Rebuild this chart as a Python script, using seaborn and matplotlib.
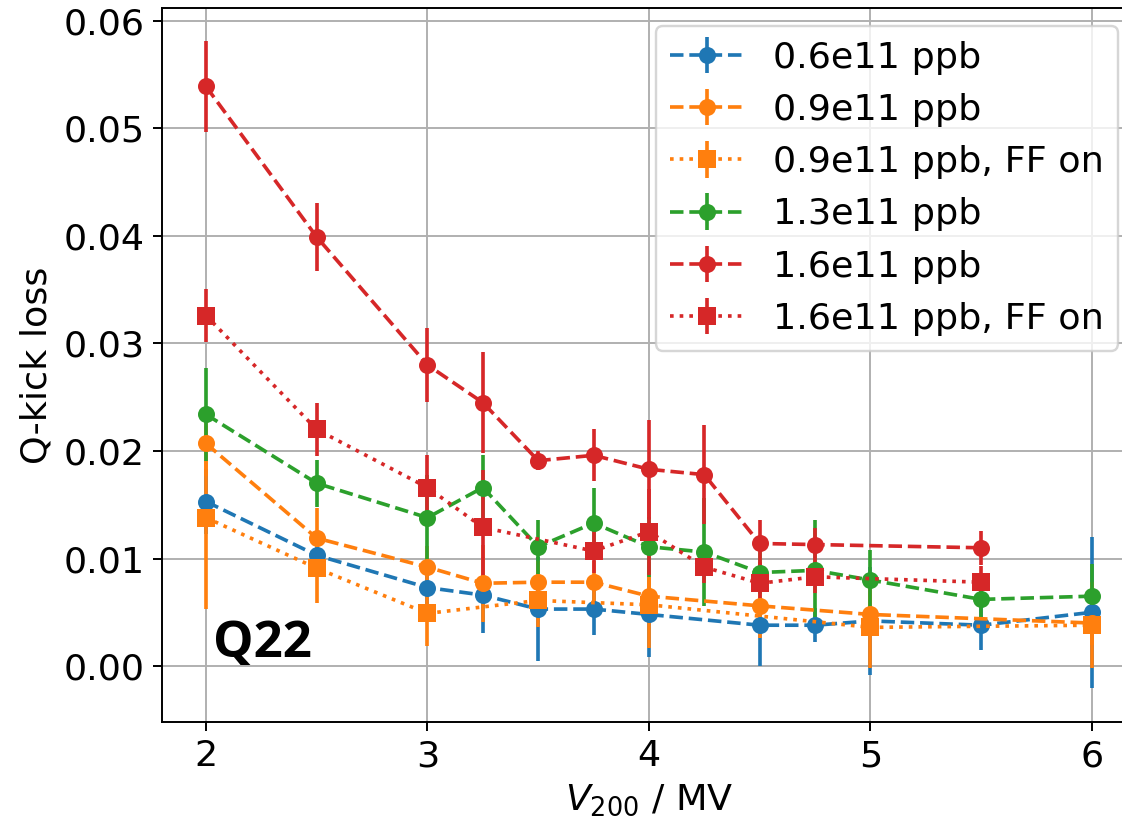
import numpy as np
import pandas as pd
import matplotlib
matplotlib.use("Agg")
import matplotlib.pyplot as plt
import seaborn as sns

# ---- data ----
x_06 = [2, 2.5, 3, 3.25, 3.5, 3.75, 4, 4.5, 4.75, 5, 5.5, 6]
y_06 = [0.0153, 0.0103, 0.0073, 0.0066, 0.0053, 0.0053, 0.0048, 0.0038, 0.0038, 0.0042, 0.0038, 0.0050]
e_06 = [0.003, 0.002, 0.002, 0.0035, 0.0048, 0.0024, 0.004, 0.0038, 0.0016, 0.005, 0.0023, 0.007]

x_09 = [2, 2.5, 3, 3.25, 3.5, 3.75, 4, 4.5, 5, 6]
y_09 = [0.0207, 0.0119, 0.0092, 0.0077, 0.0078, 0.0078, 0.0065, 0.0056, 0.0048, 0.0040]
e_09 = [0.003, 0.0028, 0.002, 0.0036, 0.002, 0.002, 0.0025, 0.003, 0.002, 0.002]

x_09ff = [2, 2.5, 3, 3.5, 4, 5, 6]
y_09ff = [0.0138, 0.0091, 0.0049, 0.0061, 0.0057, 0.0036, 0.0038]
e_09ff = [0.0085, 0.0032, 0.003, 0.0025, 0.004, 0.0038, 0.004]

x_13 = [2, 2.5, 3, 3.25, 3.5, 3.75, 4, 4.25, 4.5, 4.75, 5, 5.5, 6]
y_13 = [0.0234, 0.0170, 0.0138, 0.0166, 0.0111, 0.0133, 0.0111, 0.0106, 0.0087, 0.0089, 0.0080, 0.0062, 0.0065]
e_13 = [0.0043, 0.0022, 0.004, 0.003, 0.0025, 0.0033, 0.0028, 0.005, 0.002, 0.0047, 0.0028, 0.0025, 0.003]

x_16 = [2, 2.5, 3, 3.25, 3.5, 3.75, 4, 4.25, 4.5, 4.75, 5.5]
y_16 = [0.0539, 0.0399, 0.0280, 0.0245, 0.0191, 0.0196, 0.0183, 0.0178, 0.0114, 0.0113, 0.0110]
e_16 = [0.0042, 0.0032, 0.0034, 0.0047, 0.0009, 0.0024, 0.0046, 0.0046, 0.0022, 0.0015, 0.0016]

x_16ff = [2, 2.5, 3, 3.25, 3.75, 4, 4.25, 4.5, 4.75, 5.5]
y_16ff = [0.0326, 0.0220, 0.0166, 0.0129, 0.0107, 0.0125, 0.0092, 0.0077, 0.0083, 0.0078]
e_16ff = [0.0025, 0.0025, 0.003, 0.0053, 0.002, 0.004, 0.0015, 0.002, 0.0015, 0.0015]

labels = ["0.6e11 ppb", "0.9e11 ppb", "0.9e11 ppb, FF on",
          "1.3e11 ppb", "1.6e11 ppb", "1.6e11 ppb, FF on"]

pal = sns.color_palette("tab10")
series = [
    (x_06, y_06, e_06, pal[0], "--", "o"),
    (x_09, y_09, e_09, pal[1], "--", "o"),
    (x_09ff, y_09ff, e_09ff, pal[1], ":", "s"),
    (x_13, y_13, e_13, pal[2], "--", "o"),
    (x_16, y_16, e_16, pal[3], "--", "o"),
    (x_16ff, y_16ff, e_16ff, pal[3], ":", "s"),
]

plt.rcParams.update({
    "font.family": ["DejaVu Sans"],
    "font.size": 15,
    "axes.linewidth": 0.8,
})

dpi = 175
fig = plt.figure(figsize=(1122 / dpi, 821 / dpi), dpi=dpi)
ax = fig.add_axes([0.1441, 0.1206, 0.8686, 0.8697])
ax.set_axisbelow(True)
ax.grid(True, color="#b0b0b0", linewidth=0.8)

handles = []
for (xs, ys, es, col, ls, mk), lab in zip(series, labels):
    df = pd.DataFrame({"V": xs, "loss": ys})
    ax.errorbar(df["V"], df["loss"], yerr=es, fmt="none", ecolor=col,
                elinewidth=1.5, zorder=2)
    sns.lineplot(data=df, x="V", y="loss", color=col, linestyle=ls,
                 marker=mk, markersize=7, markeredgewidth=0, linewidth=1.5,
                 sort=False, estimator=None, legend=False, ax=ax, zorder=2.1)
    h = ax.errorbar([np.nan], [np.nan], yerr=[np.nan], fmt=mk + ls,
                    color=col, ecolor=col, elinewidth=1.5, linewidth=1.5,
                    markersize=7, markeredgewidth=0, label=lab)
    handles.append(h)

ax.set_xlim(1.8, 6.2)
ax.set_ylim(-0.0052, 0.0612)
ax.set_xticks([2, 3, 4, 5, 6])
ax.set_yticks([0.00, 0.01, 0.02, 0.03, 0.04, 0.05, 0.06])
ax.set_yticklabels(["0.00", "0.01", "0.02", "0.03", "0.04", "0.05", "0.06"])
ax.tick_params(labelsize=15)
ax.set_xlabel("$V_{200}$ / MV", fontsize=15)
ax.set_ylabel("Q-kick loss", fontsize=15)

ax.legend(handles=handles, labels=labels, loc="upper right", fontsize=15)

ax.text(2.03, 0.0008, "Q22", fontsize=21, fontweight="bold",
        family=["Open Sans", "DejaVu Sans"], va="baseline", ha="left")

fig.savefig("out.png", dpi=dpi)
